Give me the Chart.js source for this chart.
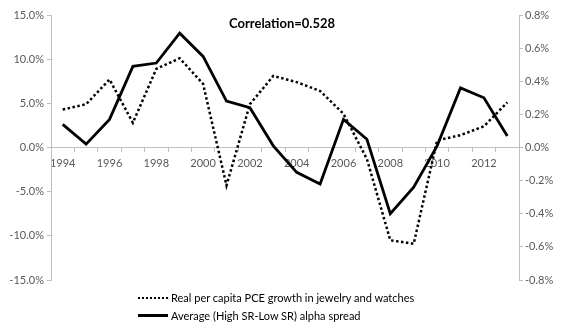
<!DOCTYPE html>
<html>
<head>
<meta charset="utf-8">
<script src="https://cdn.jsdelivr.net/npm/chart.js@4/dist/chart.umd.min.js"></script>
<style>
  html, body { margin: 0; padding: 0; background: #fff; }
  #wrap { position: relative; width: 563px; height: 332px; }
  #c { position: absolute; left: 0; top: 0; }
  .title { position: absolute; left: 229px; top: 15px; font: bold 13px Lato, sans-serif; color: #000; white-space: nowrap; }
  .leg { position: absolute; left: 138px; font: 11px Lato, sans-serif; color: #000; white-space: nowrap; display: flex; align-items: center; }
  .sw { width: 30px; height: 2px; margin-right: 3px; }
  .dot { background: repeating-linear-gradient(90deg, #000 0 2px, transparent 2px 4px); }
  .sol { background: #000; height: 2.5px; }
</style>
</head>
<body>
<div id="wrap">
  <canvas id="c" width="563" height="332"></canvas>
  <div class="title">Correlation=0.528</div>
  <div class="leg" style="top:291px"><span class="sw dot"></span><span id="l1"></span></div>
  <div class="leg" style="top:309px"><span class="sw sol"></span><span id="l2"></span></div>
</div>
<script>
const years = ['1994','1995','1996','1997','1998','1999','2000','2001','2002','2003','2004','2005','2006','2007','2008','2009','2010','2011','2012','2013'];
const pceGrowth = [4.3, 4.9, 7.7, 2.8, 8.9, 10.1, 7.2, -4.3, 4.9, 8.1, 7.4, 6.4, 3.8, -1.3, -10.5, -10.9, 0.8, 1.4, 2.4, 5.1];
const alphaSpread = [0.14, 0.02, 0.17, 0.49, 0.51, 0.69, 0.55, 0.28, 0.24, 0.01, -0.15, -0.22, 0.17, 0.05, -0.40, -0.24, 0.01, 0.36, 0.30, 0.07];
const seriesNames = ['Real per capita PCE growth in jewelry and watches', 'Average (High SR-Low SR) alpha spread'];
const leftTicks = { min: -15, max: 15, step: 5 };
const rightTicks = { min: -0.8, max: 0.8, step: 0.2 };

document.getElementById('l1').textContent = seriesNames[0];
document.getElementById('l2').textContent = seriesNames[1];

const axisColor = '#bfbfbf';
const tickFont = { family: 'Lato', size: 11 };
const tickColor = '#595959';

new Chart(document.getElementById('c'), {
  type: 'line',
  data: {
    labels: years,
    datasets: [
      { label: seriesNames[0], data: pceGrowth, yAxisID: 'y', borderColor: '#000', borderWidth: 2.5,
        borderDash: [2.5, 2.5], pointRadius: 0, tension: 0, fill: false },
      { label: seriesNames[1], data: alphaSpread, yAxisID: 'y1', borderColor: '#000', borderWidth: 2.8,
        pointRadius: 0, tension: 0, fill: false }
    ]
  },
  options: {
    responsive: false,
    animation: false,
    layout: { padding: { top: 15, bottom: 52, left: 0, right: 0 } },
    plugins: { legend: { display: false }, tooltip: { enabled: false }, title: { display: false } },
    scales: {
      x: {
        type: 'category',
        offset: true,
        position: { y: 0 },
        grid: { display: true, drawOnChartArea: false, offset: true, tickLength: 4, color: axisColor },
        border: { color: axisColor },
        ticks: { autoSkip: false, maxRotation: 0, font: tickFont, color: tickColor, padding: 5,
          callback: function(v, i) { return i % 2 === 0 ? this.getLabelForValue(v) : ''; } }
      },
      y: {
        position: 'left',
        min: leftTicks.min, max: leftTicks.max,
        grid: { display: true, drawOnChartArea: false, tickLength: 4, color: axisColor },
        border: { color: axisColor },
        ticks: { stepSize: leftTicks.step, font: tickFont, color: tickColor, padding: 3,
          callback: v => v.toFixed(1) + '%' },
        afterFit: s => { s.width = 51; }
      },
      y1: {
        position: 'right',
        min: rightTicks.min, max: rightTicks.max,
        grid: { display: true, drawOnChartArea: false, tickLength: 4, color: axisColor },
        border: { color: axisColor },
        ticks: { stepSize: rightTicks.step, font: tickFont, color: tickColor, padding: 2,
          callback: v => (Math.round(v * 10) / 10).toFixed(1) + '%' },
        afterFit: s => { s.width = 44; }
      }
    }
  }
});
</script>
</body>
</html>
